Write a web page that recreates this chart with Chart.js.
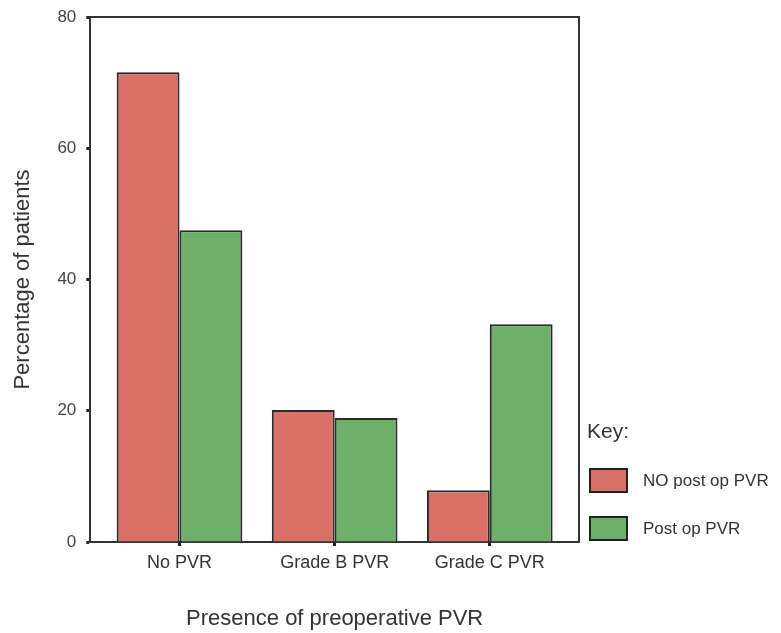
<!DOCTYPE html>
<html>
<head>
<meta charset="utf-8">
<script src="https://cdn.jsdelivr.net/npm/chart.js@4/dist/chart.umd.min.js"></script>
<style>
  html, body { margin: 0; padding: 0; background: #fff; }
  #wrap { width: 781px; height: 633px; }
</style>
</head>
<body>
<div id="wrap"><canvas id="pvr-chart"></canvas></div>
<script>
const categories = ["No PVR", "Grade B PVR", "Grade C PVR"];
const noPostOpPVR = [71.6, 20.1, 7.9];
const postOpPVR = [47.5, 18.9, 33.2];
const seriesNames = ["NO post op PVR", "Post op PVR"];
const yTicks = [0, 20, 40, 60, 80];

const RED = "rgb(217, 112, 104)";
const GREEN = "rgb(110, 176, 106)";
const FONT = "'Liberation Sans', Arial, sans-serif";

// top + right sides of the box round the plot
const framePlugin = {
  id: "frame",
  afterDatasetsDraw(chart) {
    const { ctx, chartArea } = chart;
    ctx.save();
    ctx.strokeStyle = "#333";
    ctx.lineWidth = 2;
    ctx.beginPath();
    ctx.moveTo(chartArea.left, chartArea.top);
    ctx.lineTo(chartArea.right, chartArea.top);
    ctx.lineTo(chartArea.right, chartArea.bottom);
    ctx.stroke();
    ctx.restore();
  }
};

// "Key:" legend drawn to the right of the plot
const keyPlugin = {
  id: "key",
  afterDraw(chart) {
    const { ctx, chartArea } = chart;
    const x = chartArea.right + 11;
    const b = chartArea.bottom;
    ctx.save();
    ctx.fillStyle = "#333";
    ctx.textBaseline = "middle";
    ctx.textAlign = "left";
    ctx.font = "21px " + FONT;
    ctx.fillText("Key:", x - 3, b - 110);
    ctx.font = "17px " + FONT;
    chart.data.datasets.forEach((ds, i) => {
      const top = b - 73 + i * 48;
      ctx.fillStyle = ds.backgroundColor;
      ctx.fillRect(x, top, 37, 23);
      ctx.strokeStyle = "#222";
      ctx.lineWidth = 2;
      ctx.strokeRect(x, top, 37, 23);
      ctx.fillStyle = "#333";
      ctx.fillText(ds.label, x + 53, top + 12);
    });
    ctx.restore();
  }
};

new Chart(document.getElementById("pvr-chart"), {
  type: "bar",
  data: {
    labels: categories,
    datasets: [
      {
        label: seriesNames[0],
        data: noPostOpPVR,
        backgroundColor: RED,
        borderColor: "#2a2a2a",
        borderWidth: 2,
        categoryPercentage: 0.81,
        barPercentage: 1.0
      },
      {
        label: seriesNames[1],
        data: postOpPVR,
        backgroundColor: GREEN,
        borderColor: "#2a2a2a",
        borderWidth: 2,
        categoryPercentage: 0.81,
        barPercentage: 1.0
      }
    ]
  },
  options: {
    responsive: true,
    maintainAspectRatio: false,
    animation: false,
    layout: { padding: { top: 17, right: 202, bottom: 0, left: 0 } },
    plugins: {
      legend: { display: false },
      tooltip: { enabled: false }
    },
    scales: {
      x: {
        // widen the space at both ends like the original
        afterBuildTicks: (scale) => {
          scale._startValue = -0.575;
          scale._valueRange = 3.15;
        },
        grid: {
          display: true,
          offset: false,
          drawOnChartArea: false,
          drawTicks: true,
          tickLength: 4,
          tickWidth: 3,
          tickColor: "#222"
        },
        border: { display: true, color: "#333", width: 2 },
        ticks: {
          color: "#333",
          padding: 6,
          maxRotation: 0,
          font: { family: FONT, size: 18 }
        },
        title: {
          display: true,
          text: "Presence of preoperative PVR",
          color: "#333",
          font: { family: FONT, size: 22 },
          padding: { top: 26, bottom: 1 }
        }
      },
      y: {
        min: 0,
        max: 80,
        afterBuildTicks: (scale) => {
          scale.ticks = yTicks.map((v) => ({ value: v }));
        },
        grid: {
          display: true,
          drawOnChartArea: false,
          drawTicks: true,
          tickLength: 4,
          tickWidth: 3,
          tickColor: "#222"
        },
        border: { display: true, color: "#333", width: 2 },
        ticks: {
          color: "#444",
          padding: 10,
          font: { family: FONT, size: 17, lineHeight: 0.8 }
        },
        title: {
          display: true,
          text: "Percentage of patients",
          color: "#333",
          font: { family: FONT, size: 22 },
          padding: { top: 10, bottom: 11 }
        }
      }
    }
  },
  plugins: [framePlugin, keyPlugin]
});
</script>
</body>
</html>
